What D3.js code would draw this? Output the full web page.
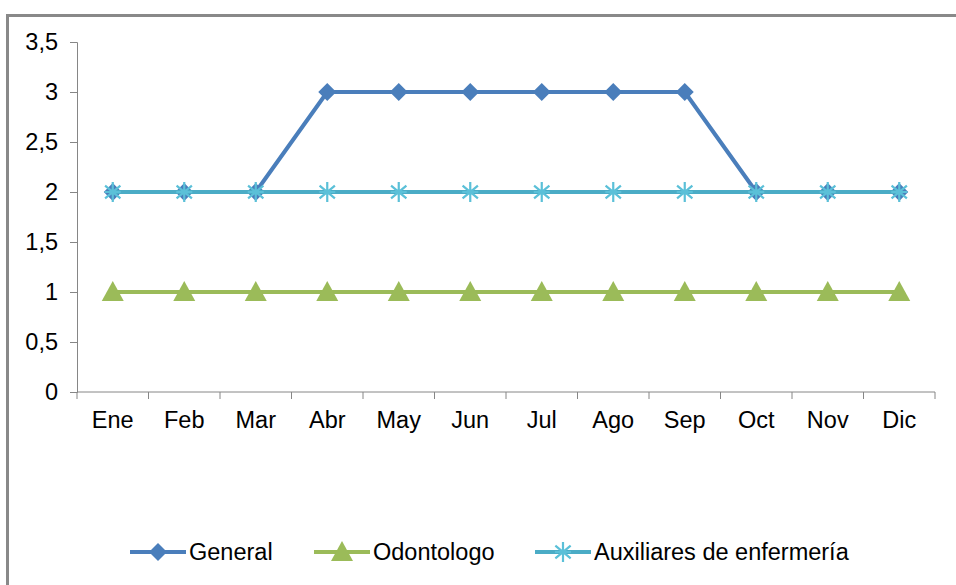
<!DOCTYPE html>
<html>
<head>
<meta charset="utf-8">
<script src="https://cdn.jsdelivr.net/npm/d3@7"></script>
<style>
  body { margin: 0; background: #fff; }
  svg text { font-family: "Liberation Sans", Arial, sans-serif; fill: #000; }
</style>
</head>
<body>
<svg width="956" height="585"></svg>
<script>
const months = ["Ene", "Feb", "Mar", "Abr", "May", "Jun", "Jul", "Ago", "Sep", "Oct", "Nov", "Dic"];
const general = [2, 2, 2, 3, 3, 3, 3, 3, 3, 2, 2, 2];
const odontologo = [1, 1, 1, 1, 1, 1, 1, 1, 1, 1, 1, 1];
const auxiliares = [2, 2, 2, 2, 2, 2, 2, 2, 2, 2, 2, 2];
const yTicks = [0, 0.5, 1, 1.5, 2, 2.5, 3, 3.5];

const series = [
  { name: "General", values: general, color: "#4A7EBB", marker: "diamond" },
  { name: "Odontologo", values: odontologo, color: "#9BBB59", marker: "triangle" },
  { name: "Auxiliares de enfermería", values: auxiliares, color: "#4BACC6", marker: "star" }
];

const svg = d3.select("svg");
const axisColor = "#868686";
const fontSize = "23.5px";

// outer frame
svg.append("rect")
  .attr("x", 7.5).attr("y", 15.5)
  .attr("width", 1100).attr("height", 1100)
  .attr("fill", "none").attr("stroke", "#898989").attr("stroke-width", 3);

const x = d3.scaleBand().domain(months).range([77, 935]);
const y = d3.scaleLinear().domain([0, 3.5]).range([392, 42]);

// y axis
const yAxis = svg.append("g").attr("transform", "translate(77,0)")
  .call(d3.axisLeft(y).tickValues(yTicks).tickSize(7).tickPadding(12)
    .tickFormat(d => String(d).replace(".", ",")));
yAxis.selectAll("path, line").attr("stroke", axisColor);
yAxis.selectAll("text").style("font-size", fontSize);

// x axis with ticks at band boundaries
const xAxis = svg.append("g").attr("transform", "translate(0,392)");
xAxis.append("line").attr("x1", 77).attr("x2", 935).attr("stroke", axisColor);
xAxis.selectAll(".tk").data(d3.range(months.length + 1)).enter().append("line")
  .attr("x1", i => 77 + i * x.step()).attr("x2", i => 77 + i * x.step())
  .attr("y1", 0).attr("y2", 7).attr("stroke", axisColor);
xAxis.selectAll(".lbl").data(months).enter().append("text")
  .attr("x", d => x(d) + x.bandwidth() / 2).attr("y", 36)
  .attr("text-anchor", "middle").style("font-size", fontSize).text(d => d);

function drawMarker(g, type, color, cx, cy) {
  if (type === "diamond") {
    g.append("path").attr("d", `M${cx},${cy - 9}L${cx + 9},${cy}L${cx},${cy + 9}L${cx - 9},${cy}Z`)
      .attr("fill", color);
  } else if (type === "triangle") {
    g.append("path").attr("d", `M${cx},${cy - 11}L${cx + 11},${cy + 9}L${cx - 11},${cy + 9}Z`)
      .attr("fill", color);
  } else {
    const r = 10;
    const d = [90, 40, 140].map(a => {
      const rad = a * Math.PI / 180;
      return `M${cx - r * Math.cos(rad)},${cy - r * Math.sin(rad)}L${cx + r * Math.cos(rad)},${cy + r * Math.sin(rad)}`;
    }).join("") + `M${cx - 8},${cy}L${cx + 8},${cy}`;
    g.append("path").attr("d", d).attr("stroke", "#5BC0D8").attr("stroke-width", 2.2).attr("fill", "none");
  }
}

const line = d3.line().x((d, i) => x(months[i]) + x.bandwidth() / 2).y(d => y(d));

series.forEach(s => {
  const g = svg.append("g");
  g.append("path").datum(s.values).attr("d", line)
    .attr("fill", "none").attr("stroke", s.color).attr("stroke-width", 4).attr("stroke-linejoin", "round");
  s.values.forEach((v, i) => drawMarker(g, s.marker, s.color, x(months[i]) + x.bandwidth() / 2, y(v)));
});

// legend
const legendPos = [130, 314, 535];
series.forEach((s, i) => {
  const g = svg.append("g").attr("transform", `translate(${legendPos[i]},552)`);
  g.append("line").attr("x1", 0).attr("x2", 56).attr("stroke", s.color).attr("stroke-width", 4);
  drawMarker(g, s.marker, s.color, 28, 0);
  g.append("text").attr("x", 59).attr("y", 8).style("font-size", fontSize).text(s.name);
});
</script>
</body>
</html>
